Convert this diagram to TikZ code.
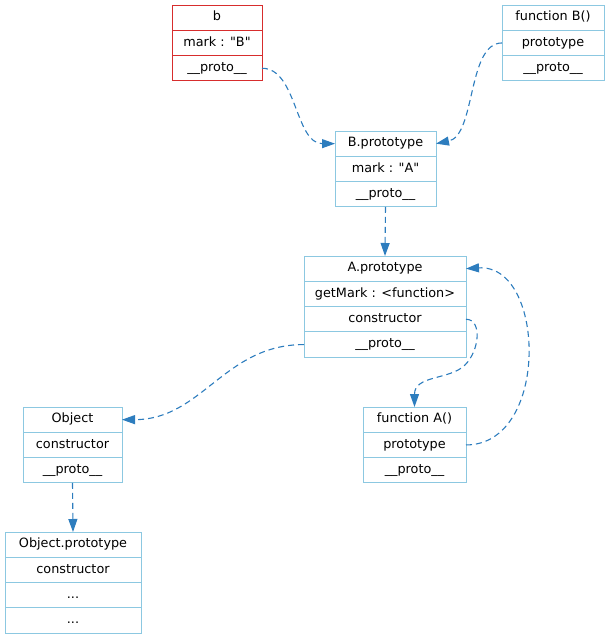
\documentclass[tikz,border=0pt]{standalone}
\usepackage{fontspec}
\setmainfont{DejaVu Sans}
\usetikzlibrary{positioning,arrows.meta}
\definecolor{boxblue}{RGB}{140,200,225}
\definecolor{boxred}{RGB}{215,45,45}
\definecolor{linkblue}{RGB}{45,125,190}
\tikzset{
  field/.style={draw=boxblue,line width=1pt,outer sep=0pt,inner sep=0pt,minimum height=25.3pt,text height=9pt,text depth=2.5pt,font=\fontsize{12.8}{15}\selectfont},
  redfield/.style={field,draw=boxred},
  link/.style={linkblue,line width=1.1pt,dash pattern=on 6pt off 4pt,-{Triangle[length=13pt,width=9pt]}}
}
\begin{document}
\begin{tikzpicture}[x=1pt,y=-1pt]
\useasboundingbox (0,0) rectangle (609,640);
\node[redfield,minimum width=90pt,anchor=north west] (b-name) at (172,5) {b};
\node[redfield,minimum width=90pt,below=0pt of b-name] (b-mark) {mark : \textquotedbl B\textquotedbl};
\node[redfield,minimum width=90pt,below=0pt of b-mark] (b-proto) {\_\_proto\_\_};
\node[field,minimum width=102pt,anchor=north west] (fB-name) at (502,5) {function B()};
\node[field,minimum width=102pt,below=0pt of fB-name] (fB-proto) {prototype};
\node[field,minimum width=102pt,below=0pt of fB-proto] (fB-pro) {\_\_proto\_\_};
\node[field,minimum width=101pt,anchor=north west] (Bp-name) at (335,131) {B.prototype};
\node[field,minimum width=101pt,below=0pt of Bp-name] (Bp-mark) {mark : \textquotedbl A\textquotedbl};
\node[field,minimum width=101pt,below=0pt of Bp-mark] (Bp-proto) {\_\_proto\_\_};
\node[field,minimum width=162pt,anchor=north west] (Ap-name) at (304,256) {A.prototype};
\node[field,minimum width=162pt,below=0pt of Ap-name] (Ap-mark) {getMark : <function>};
\node[field,minimum width=162pt,below=0pt of Ap-mark] (Ap-ctor) {constructor};
\node[field,minimum width=162pt,below=0pt of Ap-ctor] (Ap-proto) {\_\_proto\_\_};
\node[field,minimum width=103pt,anchor=north west] (fA-name) at (363,407) {function A()};
\node[field,minimum width=103pt,below=0pt of fA-name] (fA-proto) {prototype};
\node[field,minimum width=103pt,below=0pt of fA-proto] (fA-pro) {\_\_proto\_\_};
\node[field,minimum width=99pt,anchor=north west] (Obj-name) at (23,407) {Object};
\node[field,minimum width=99pt,below=0pt of Obj-name] (Obj-ctor) {constructor};
\node[field,minimum width=99pt,below=0pt of Obj-ctor] (Obj-proto) {\_\_proto\_\_};
\node[field,minimum width=136pt,anchor=north west] (Op-name) at (5,532) {Object.prototype};
\node[field,minimum width=136pt,below=0pt of Op-name] (Op-ctor) {constructor};
\node[field,minimum width=136pt,below=0pt of Op-ctor] (Op-dots) {...};
\node[field,minimum width=136pt,below=0pt of Op-dots] (Op-more) {...};
\draw[link] (b-proto.east) .. controls +(35,0) and +(-40,0) .. (Bp-name.west);
\draw[link] (fB-proto.west) .. controls +(-35,0) and +(40,-8) .. (Bp-name.east);
\draw[link] (Bp-proto.south) -- (Ap-name.north);
\draw[link] (Ap-proto.west) .. controls +(-80,0) and +(80,0) .. (Obj-name.east);
\draw[link] (Ap-ctor.east) .. controls +(16,0) and +(15,-15) .. (465,365) .. controls +(-15,15) and +(0,-32) .. (fA-name.north);
\draw[link] (fA-proto.east) .. controls +(84,0) and +(80,-5) .. (Ap-name.east);
\draw[link] (Obj-proto.south) -- (Op-name.north);
\end{tikzpicture}
\end{document}
